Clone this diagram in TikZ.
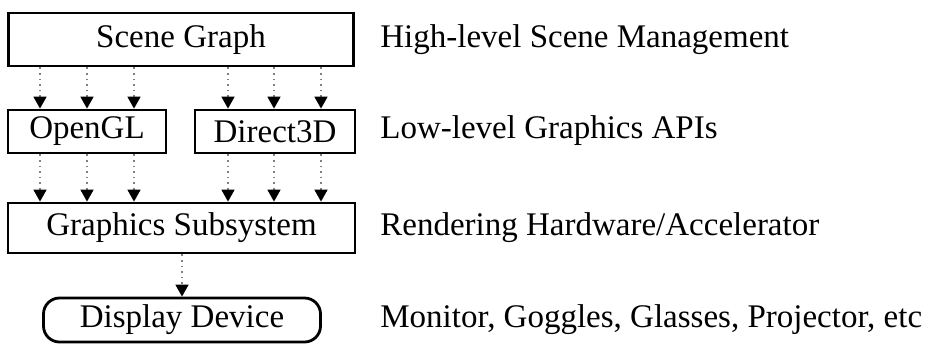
\documentclass[tikz,border=0pt]{standalone}
\usepackage{fontspec}
\setmainfont{Liberation Serif}
\usetikzlibrary{arrows.meta}
\tikzset{
  layerbox/.style={draw, rectangle, line width=1.4pt, inner sep=0pt, font=\fontsize{16.5}{20}\selectfont},
  layernote/.style={anchor=west, inner sep=0pt, font=\fontsize{16.5}{20}\selectfont},
  flow/.style={gray, dotted, line width=0.8pt, -{Triangle[length=6pt, width=6.5pt, color=black]}}
}
\begin{document}
\begin{tikzpicture}[x=0.5pt, y=-0.5pt]
\useasboundingbox (0,0) rectangle (929,343);
\node[layerbox, minimum width=172.5pt, minimum height=26.5pt] (sg) at (181,39.5) {Scene Graph};
\node[layerbox, minimum width=79pt, minimum height=21.5pt] (ogl) at (87,131.5) {OpenGL};
\node[layerbox, minimum width=80pt, minimum height=21.5pt] (d3d) at (275,131.5) {Direct3D};
\node[layerbox, minimum width=173.5pt, minimum height=25pt] (gfx) at (181.5,228) {Graphics Subsystem};
\node[layerbox, rounded corners=8pt, minimum width=138.5pt, minimum height=22pt] (disp) at (182,320) {Display Device};
% descriptions on the right
\node[layernote] (n1) at (380,40) {High-level Scene Management};
\node[layernote] (n2) at (380,131) {Low-level Graphics APIs};
\node[layernote] (n3) at (380,228) {Rendering Hardware/Accelerator};
\node[layernote] (n4) at (380,320) {Monitor, Goggles, Glasses, Projector, etc};
% connectors
\foreach \x in {40,87,134} {
  \draw[flow] (sg.south -| \x,0) -- (ogl.north -| \x,0);
  \draw[flow] (ogl.south -| \x,0) -- (gfx.north -| \x,0);
}
\foreach \x in {228,274,321} {
  \draw[flow] (sg.south -| \x,0) -- (d3d.north -| \x,0);
  \draw[flow] (d3d.south -| \x,0) -- (gfx.north -| \x,0);
}
\draw[flow] (gfx.south -| disp.north) -- (disp.north);
\end{tikzpicture}
\end{document}
